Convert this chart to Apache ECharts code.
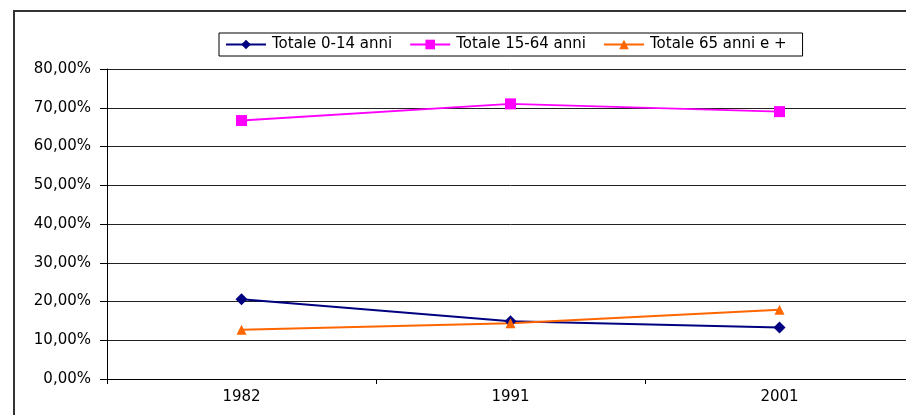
<!DOCTYPE html>
<html>
<head>
<meta charset="utf-8">
<script src="https://cdn.jsdelivr.net/npm/echarts@6/dist/echarts.min.js"></script>
<style>
html,body{margin:0;padding:0;background:#fff;overflow:hidden;width:906px;height:415px;}
#chart{width:914px;height:415px;}
</style>
</head>
<body>
<div id="chart"></div>
<script>
var categories = ['1982', '1991', '2001'];
var seriesNames = ['Totale 0-14 anni', 'Totale 15-64 anni', 'Totale 65 anni e +'];
var values0_14 = [20.6, 14.9, 13.3];
var values15_64 = [66.7, 71.0, 69.0];
var values65 = [12.7, 14.4, 17.9];
var yTicks = { min: 0, max: 80, interval: 10 };

var FONT = 'DejaVu Sans';
var chart = echarts.init(document.getElementById('chart'), null, { renderer: 'canvas' });

function pct(v) { return v.toFixed(2).replace('.', ',') + '%'; }

chart.setOption({
  animation: false,
  backgroundColor: '#ffffff',
  textStyle: { fontFamily: FONT, color: '#000' },
  graphic: [{
    type: 'rect',
    shape: { x: 14, y: 11, width: 1000, height: 1000 },
    style: { fill: 'none', stroke: '#333', lineWidth: 2 },
    silent: true
  }],
  legend: {
    left: 219,
    top: 33,
    padding: [4, 16, 4, 6],
    itemWidth: 40,
    itemHeight: 12,
    itemGap: 17,
    borderColor: '#000',
    borderWidth: 1,
    textStyle: { fontFamily: FONT, fontSize: 15, color: '#000', padding: [0, 0, 0, 1] },
    data: seriesNames
  },
  grid: { left: 107, right: 0, top: 69, bottom: 36, containLabel: false },
  xAxis: {
    type: 'category',
    data: categories,
    boundaryGap: true,
    axisLine: { lineStyle: { color: '#000', width: 1 } },
    axisTick: { show: true, length: 5, alignWithLabel: false, lineStyle: { color: '#000' } },
    axisLabel: { fontFamily: FONT, fontSize: 15, color: '#000', margin: 11 },
    splitLine: { show: false }
  },
  yAxis: {
    type: 'value',
    min: yTicks.min,
    max: yTicks.max,
    interval: yTicks.interval,
    axisLine: { show: true, lineStyle: { color: '#000', width: 1 } },
    axisTick: { show: true, length: 7, lineStyle: { color: '#000' } },
    axisLabel: { fontFamily: FONT, fontSize: 15, color: '#000', margin: 16, formatter: pct },
    splitLine: { show: true, lineStyle: { color: '#222', width: 1 } }
  },
  series: [
    {
      name: seriesNames[0], type: 'line', data: values0_14,
      symbol: 'diamond', symbolSize: 12,
      itemStyle: { color: '#000080' }, lineStyle: { color: '#000080', width: 2 }
    },
    {
      name: seriesNames[1], type: 'line', data: values15_64,
      symbol: 'rect', symbolSize: 11,
      itemStyle: { color: '#ff00ff' }, lineStyle: { color: '#ff00ff', width: 2 }
    },
    {
      name: seriesNames[2], type: 'line', data: values65,
      symbol: 'triangle', symbolSize: 10,
      itemStyle: { color: '#ff6600' }, lineStyle: { color: '#ff6600', width: 2 }
    }
  ]
});
</script>
</body>
</html>
